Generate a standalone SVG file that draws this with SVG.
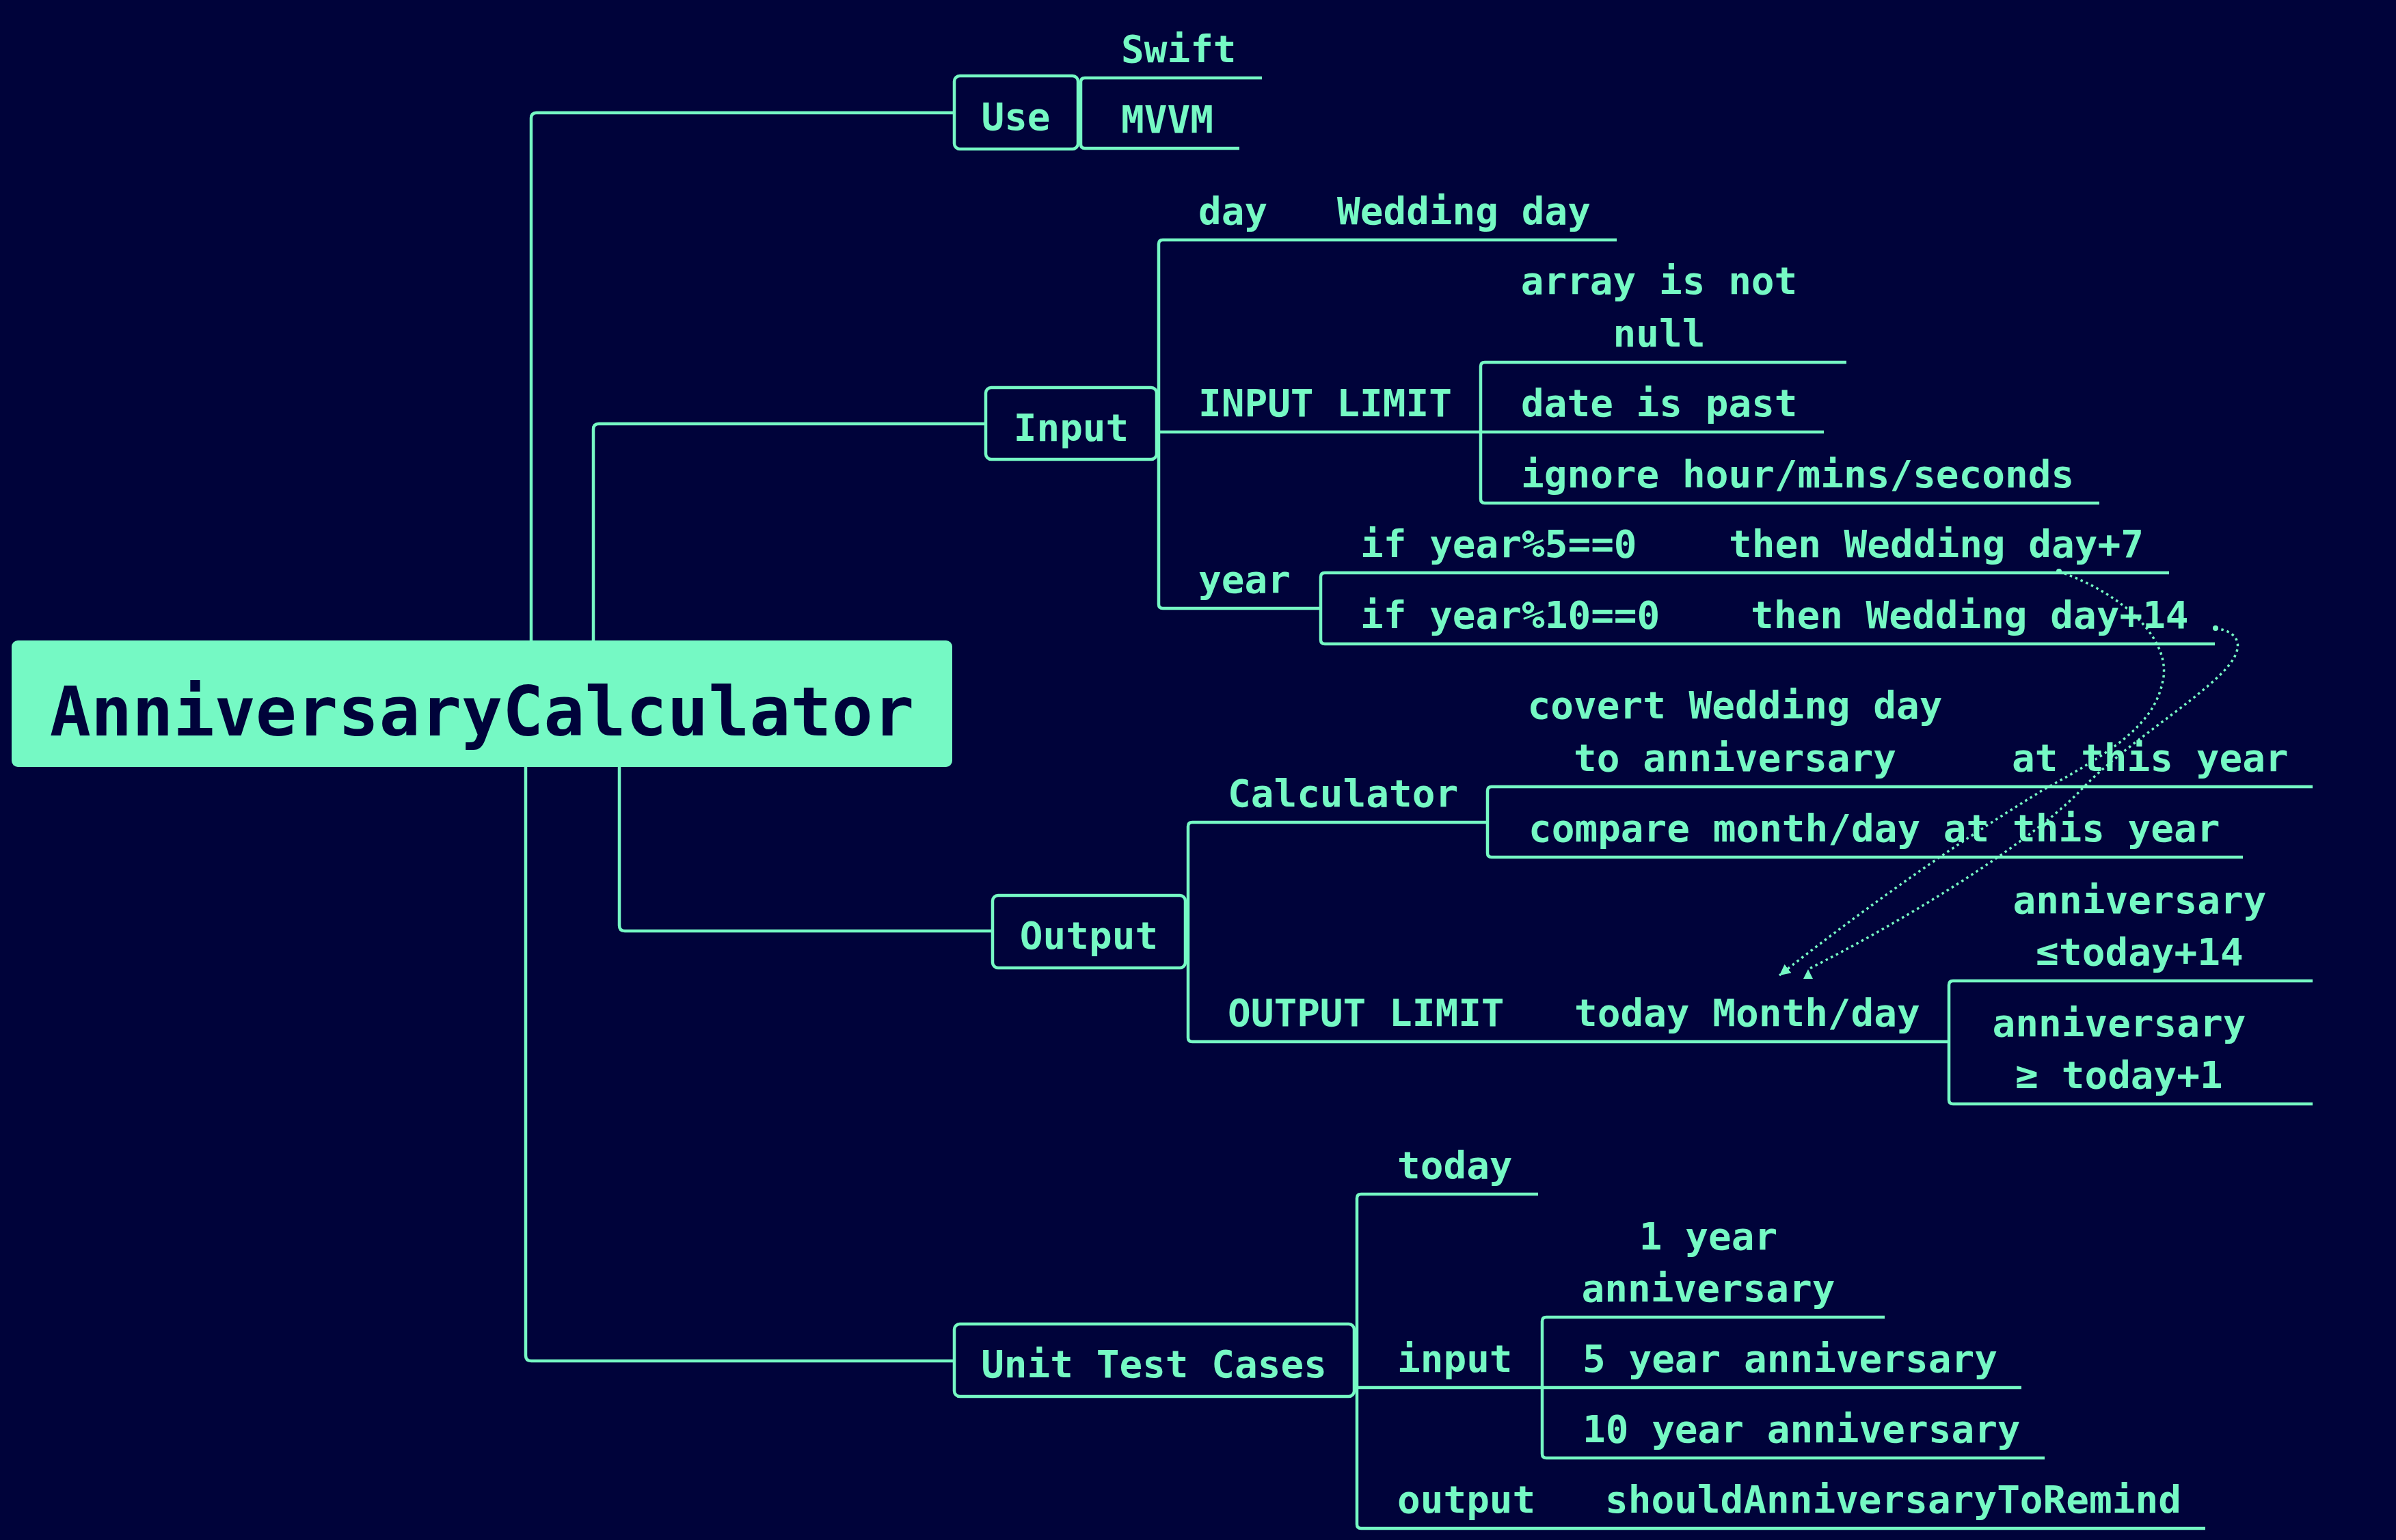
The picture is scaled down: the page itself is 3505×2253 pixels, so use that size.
<svg xmlns="http://www.w3.org/2000/svg" width="3505" height="2253" viewBox="0 0 3505 2253">
<style>
.t{font-family:"DejaVu Sans Mono","Liberation Mono",monospace;font-size:56px;font-weight:bold;fill:#75f9c4}
.m{text-anchor:middle}
.ln{fill:none;stroke:#75f9c4;stroke-width:4.5;stroke-linejoin:round}
.box{fill:none;stroke:#75f9c4;stroke-width:4.5}
.dot{fill:none;stroke:#75f9c4;stroke-width:3.5;stroke-dasharray:3.5 5}
</style>
<defs>
<marker id="arr" markerUnits="userSpaceOnUse" viewBox="0 0 16 16" refX="16" refY="8" markerWidth="16" markerHeight="16" orient="auto"><path d="M0,0 L16,8 L0,16 z" fill="#75f9c4"/></marker>
<marker id="arrUp" markerUnits="userSpaceOnUse" viewBox="0 0 14 14" refX="14" refY="7" markerWidth="14" markerHeight="14" orient="-90"><path d="M0,0 L14,7 L0,14 z" fill="#75f9c4"/></marker>
<marker id="st" markerUnits="userSpaceOnUse" viewBox="0 0 10 10" refX="5" refY="5" markerWidth="10" markerHeight="10"><circle cx="5" cy="5" r="4" fill="#75f9c4"/></marker>
</defs>
<rect width="3505" height="2253" fill="#00033a"/>
<g id="connectors">
<path class="ln" d="M777 937 V173 Q777 165 785 165 H1396"/>
<path class="ln" d="M868 937 V628 Q868 620 876 620 H1442"/>
<path class="ln" d="M906 1122 V1354 Q906 1362 914 1362 H1452"/>
<path class="ln" d="M769 1122 V1983 Q769 1991 777 1991 H1396"/>
<path class="ln" d="M1587 114 Q1581 114 1581 120 V211 Q1581 217 1587 217 M1577 166 H1581"/>
<path class="ln" d="M1701 351 Q1695 351 1695 357 V884 Q1695 890 1701 890 M1692 632 H1695"/>
<path class="ln" d="M2172 530 Q2166 530 2166 536 V730 Q2166 736 2172 736"/>
<path class="ln" d="M1938 838 Q1932 838 1932 844 V936 Q1932 942 1938 942"/>
<path class="ln" d="M1744 1203 Q1738 1203 1738 1209 V1518 Q1738 1524 1744 1524 M1734 1363 H1738"/>
<path class="ln" d="M2182 1151 Q2176 1151 2176 1157 V1248 Q2176 1254 2182 1254"/>
<path class="ln" d="M2857 1435 Q2851 1435 2851 1441 V1609 Q2851 1615 2857 1615"/>
<path class="ln" d="M1991 1747 Q1985 1747 1985 1753 V2230 Q1985 2236 1991 2236 M1981 2030 H1985"/>
<path class="ln" d="M2262 1927 Q2256 1927 2256 1933 V2127 Q2256 2133 2262 2133"/>
<path class="dot" d="M3012 836 C3110 870 3180 940 3163 1000 C3150 1060 3090 1100 2990 1155 C2850 1240 2700 1350 2603 1427" marker-start="url(#st)" marker-end="url(#arr)"/>
<path class="dot" d="M3241 919 C3280 925 3285 950 3250 985 C3200 1035 3100 1095 3040 1160 C2960 1240 2780 1350 2645 1418" marker-start="url(#st)" marker-end="url(#arrUp)"/>
</g>
<g id="root"><rect x="17" y="937" width="1376" height="185" rx="9" fill="#75f9c4"/><text class="t m" x="705" y="1076" style="font-size:100px;fill:#00033a">AnniversaryCalculator</text></g>
<g id="use"><rect class="box" x="1396" y="111" width="181" height="107" rx="8"/><text class="t m" x="1486" y="190">Use</text></g>
<g id="swift"><text class="t" x="1640" y="91">Swift</text><path class="ln" d="M1587 114 H1846"/></g>
<g id="mvvm"><text class="t" x="1640" y="194">MVVM</text><path class="ln" d="M1587 217 H1813"/></g>
<g id="input"><rect class="box" x="1442" y="567" width="250" height="105" rx="8"/><text class="t m" x="1567" y="645">Input</text></g>
<g id="day"><text class="t" x="1753" y="328">day</text><path class="ln" d="M1701 351 H1895"/></g>
<g id="wedding-day"><text class="t" x="1956" y="328">Wedding day</text><path class="ln" d="M1895 351 H2365"/></g>
<g id="input-limit"><text class="t" x="1753" y="609">INPUT LIMIT</text><path class="ln" d="M1695 632 H2166"/></g>
<g id="array-not-null"><text class="t m" x="2427"><tspan x="2427" y="430">array is not</tspan><tspan x="2427" y="507">null</tspan></text><path class="ln" d="M2172 530 H2701"/></g>
<g id="date-past"><text class="t" x="2225" y="609">date is past</text><path class="ln" d="M2166 632 H2668"/></g>
<g id="ignore"><text class="t" x="2225" y="713">ignore hour/mins/seconds</text><path class="ln" d="M2172 736 H3071"/></g>
<g id="year"><text class="t" x="1753" y="867">year</text><path class="ln" d="M1701 890 H1932"/></g>
<g id="if5"><text class="t" x="1990" y="815">if year%5==0</text><path class="ln" d="M1938 838 H2490"/></g>
<g id="then7"><text class="t" x="2529" y="815">then Wedding day+7</text><path class="ln" d="M2490 838 H3173"/></g>
<g id="if10"><text class="t" x="1990" y="919">if year%10==0</text><path class="ln" d="M1938 942 H2523"/></g>
<g id="then14"><text class="t" x="2561" y="919">then Wedding day+14</text><path class="ln" d="M2523 942 H3240"/></g>
<g id="output"><rect class="box" x="1452" y="1310" width="282" height="106" rx="8"/><text class="t m" x="1593" y="1388">Output</text></g>
<g id="calculator"><text class="t" x="1796" y="1180">Calculator</text><path class="ln" d="M1744 1203 H2176"/></g>
<g id="covert"><text class="t m" x="2538"><tspan x="2538" y="1051">covert Wedding day</tspan><tspan x="2538" y="1128">to anniversary</tspan></text><path class="ln" d="M2182 1151 H2882"/></g>
<g id="at-this-year"><text class="t" x="2943" y="1128">at this year</text><path class="ln" d="M2882 1151 H3383"/></g>
<g id="compare"><text class="t" x="2236" y="1231">compare month/day at this year</text><path class="ln" d="M2182 1254 H3281"/></g>
<g id="output-limit"><text class="t" x="1796" y="1501">OUTPUT LIMIT</text><path class="ln" d="M1744 1524 H2244"/></g>
<g id="today-md"><text class="t" x="2303" y="1501">today Month/day</text><path class="ln" d="M2244 1524 H2851"/></g>
<g id="ann-le"><text class="t m" x="3130"><tspan x="3130" y="1336">anniversary</tspan><tspan x="3130" y="1412">≤today+14</tspan></text><path class="ln" d="M2857 1435 H3383"/></g>
<g id="ann-ge"><text class="t m" x="3100"><tspan x="3100" y="1516">anniversary</tspan><tspan x="3100" y="1592">≥ today+1</tspan></text><path class="ln" d="M2857 1615 H3383"/></g>
<g id="unit-test"><rect class="box" x="1396" y="1937" width="585" height="106" rx="8"/><text class="t m" x="1688" y="2015">Unit Test Cases</text></g>
<g id="today"><text class="t" x="2044" y="1724">today</text><path class="ln" d="M1991 1747 H2250"/></g>
<g id="test-input"><text class="t" x="2044" y="2007">input</text><path class="ln" d="M1985 2030 H2256"/></g>
<g id="y1"><text class="t m" x="2499"><tspan x="2499" y="1828">1 year</tspan><tspan x="2499" y="1904">anniversary</tspan></text><path class="ln" d="M2262 1927 H2757"/></g>
<g id="y5"><text class="t" x="2315" y="2007">5 year anniversary</text><path class="ln" d="M2256 2030 H2957"/></g>
<g id="y10"><text class="t" x="2315" y="2110">10 year anniversary</text><path class="ln" d="M2262 2133 H2991"/></g>
<g id="test-output"><text class="t" x="2044" y="2213">output</text><path class="ln" d="M1991 2236 H2311"/></g>
<g id="should"><text class="t" x="2348" y="2213">shouldAnniversaryToRemind</text><path class="ln" d="M2311 2236 H3226"/></g>
</svg>
